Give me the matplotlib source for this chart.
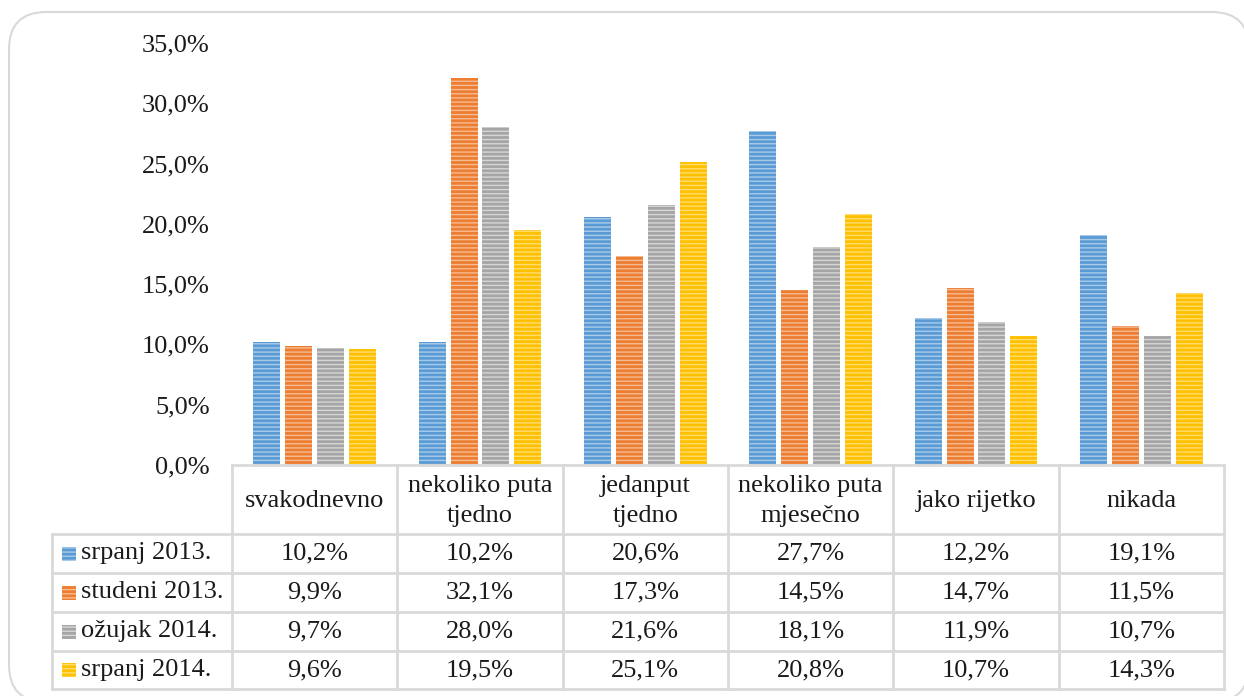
import matplotlib.pyplot as plt
from matplotlib.patches import Rectangle, FancyBboxPatch
from matplotlib.ticker import FuncFormatter
import numpy as np

plt.rcParams['font.family'] = ['Liberation Serif', 'DejaVu Serif']
plt.rcParams['hatch.linewidth'] = 1.0

categories = ['svakodnevno', 'nekoliko puta\ntjedno', 'jedanput\ntjedno',
              'nekoliko puta\nmjesečno', 'jako rijetko', 'nikada']
series_names = ['srpanj 2013.', 'studeni 2013.', 'ožujak 2014.', 'srpanj 2014.']
srpanj_2013 = [10.2, 10.2, 20.6, 27.7, 12.2, 19.1]
studeni_2013 = [9.9, 32.1, 17.3, 14.5, 14.7, 11.5]
ozujak_2014 = [9.7, 28.0, 21.6, 18.1, 11.9, 10.7]
srpanj_2014 = [9.6, 19.5, 25.1, 20.8, 10.7, 14.3]
series = [srpanj_2013, studeni_2013, ozujak_2014, srpanj_2014]

colors = ['#5B9BD5', '#ED7D31', '#A5A5A5', '#FFC000']
stripes = ['#A9CBEA', '#F6BC94', '#D6D6D6', '#FFDD70']

W, H = 1244, 696
fs = 19
tc = '#1a1a1a'
fig = plt.figure(figsize=(W / 100, H / 100), dpi=100)

# rounded outer frame (cut by the bottom edge like in the screenshot)
frame = FancyBboxPatch((9 / W, -6 / H), 1240 / W, 690 / H,
                       boxstyle='round,pad=0,rounding_size=0.03',
                       transform=fig.transFigure, facecolor='white',
                       edgecolor='#D9D9D9', linewidth=1.5, mutation_aspect=W / H,
                       zorder=-10)
fig.add_artist(frame)

# bar area
ax = fig.add_axes([232 / W, 1 - 465 / H, 992 / W, 422 / H])
ax.set_facecolor('none')
x = np.arange(len(categories))
bw = 0.163
pitch = 0.193
for i, vals in enumerate(series):
    ax.bar(x + (i - 1.5) * pitch, vals, bw, color=colors[i],
           edgecolor=stripes[i], linewidth=0, hatch='----')
ax.set_xlim(-0.5, len(categories) - 0.5)
ax.set_ylim(0, 35)
ax.set_yticks(np.arange(0, 36, 5))
ax.yaxis.set_major_formatter(FuncFormatter(lambda v, p: f'{v:.1f}%'.replace('.', ',')))
ax.tick_params(axis='y', length=0, pad=16, labelsize=fs, labelcolor=tc)
ax.set_xticks([])
for s in ax.spines.values():
    s.set_visible(False)

# data table below
tab = fig.add_axes([52 / W, 1 - 689 / H, 1172 / W, 224 / H])
tab.set_facecolor('none')
cw = 992 / 6
lab_w = 180 / cw
tab.set_xlim(-0.5 - lab_w, len(categories) - 0.5)
tab.set_ylim(224, 0)
tab.axis('off')
lc = '#D9D9D9'
lw = 2
rows = [0, 69, 108, 147, 186, 224]

# horizontal lines
tab.plot([-0.5, 5.5], [0, 0], color=lc, lw=lw, clip_on=False)
for yy in rows[1:]:
    tab.plot([-0.5 - lab_w, 5.5], [yy, yy], color=lc, lw=lw, clip_on=False)
# vertical lines
for k in range(len(categories) + 1):
    tab.plot([k - 0.5, k - 0.5], [0, 224], color=lc, lw=lw, clip_on=False)
tab.plot([-0.5 - lab_w] * 2, [69, 224], color=lc, lw=lw, clip_on=False)

for k, c in enumerate(categories):
    tab.text(k, 36, c, ha='center', va='center', fontsize=fs,
             color=tc, linespacing=1.45)

for i, name in enumerate(series_names):
    yc = (rows[i + 1] + rows[i + 2]) / 2
    tab.add_patch(Rectangle((-0.5 - lab_w + 10 / cw, yc - 7), 14 / cw, 14,
                            facecolor=colors[i], edgecolor=stripes[i],
                            linewidth=0, hatch='----'))
    tab.text(-0.5 - lab_w + 29 / cw, yc, name, ha='left', va='center',
             fontsize=fs, color=tc)
    for k, v in enumerate(series[i]):
        tab.text(k, yc, f'{v:.1f}%'.replace('.', ','), ha='center', va='center',
                 fontsize=fs, color=tc)

fig.savefig('out.png', dpi=100)
